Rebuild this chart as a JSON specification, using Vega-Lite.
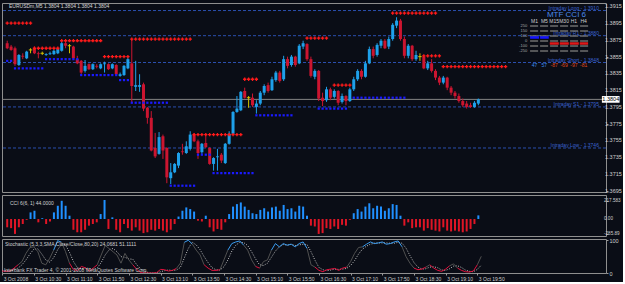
{
"$schema":"https://vega.github.io/schema/vega-lite/v6.json",
"background":"#0a0d16",
"padding":{"left":1,"top":2,"right":0,"bottom":0},
"spacing":3,
"bounds":"flush",
"config":{"view":{"stroke":"#8f8f8f","strokeWidth":1},"font":"Liberation Sans","axis":{"labelFont":"Liberation Sans","labelFontSize":5.5,"labelColor":"#cfcfcf","tickColor":"#9a9a9a","tickSize":2,"domain":false,"grid":false,"labelPadding":1,"labelOverlap":false}},
"datasets":{
"pticks":[{"v":1.3915},{"v":1.3895},{"v":1.3875},{"v":1.3855},{"v":1.3835},{"v":1.3815},{"v":1.3795},{"v":1.3775},{"v":1.3755},{"v":1.3735},{"v":1.3715},{"v":1.3695}],
"cticks":[{"v":217.583,"lab":"217.583"},{"v":0,"lab":"0.00"},{"v":-181,"lab":"-285.89"}],
"levels":[{"p":1.3910,"lab":"Intraday Long - 1.3910"},{"p":1.3880,"lab":"Intraday R1 - 1.3880"},{"p":1.3848,"lab":"Intraday Short - 1.3848"},{"p":1.3795,"lab":"Intraday S1 - 1.3795"},{"p":1.3746,"lab":"Intraday Low - 1.3746"}],
"bars":[
{"t":"2008-10-03T09:50","o":1.3871,"h":1.3874,"l":1.3864,"c":1.3865,"cci":-100,"k":6,"d":8,"r":1.3895,"s":1.3850},
{"t":"2008-10-03T09:55","o":1.3867,"h":1.3869,"l":1.3862,"c":1.3863,"cci":-110,"k":5,"d":7,"r":1.3895,"s":1.3850},
{"t":"2008-10-03T10:00","o":1.3865,"h":1.3867,"l":1.3844,"c":1.3846,"cci":-180,"k":6,"d":6,"r":1.3895,"s":1.3841},
{"t":"2008-10-03T10:05","o":1.3845,"h":1.3858,"l":1.3844,"c":1.3857,"cci":-100,"k":15,"d":9,"r":1.3895,"s":1.3841},
{"t":"2008-10-03T10:10","o":1.3856,"h":1.3859,"l":1.3852,"c":1.3855,"cci":-60,"k":25,"d":15,"r":1.3895,"s":1.3841},
{"t":"2008-10-03T10:15","o":1.3853,"h":1.3862,"l":1.3852,"c":1.3861,"cci":-10,"k":35,"d":25,"r":1.3895,"s":1.3841},
{"t":"2008-10-03T10:20","o":1.3863,"h":1.3865,"l":1.3859,"c":1.3863,"cci":80,"k":60,"d":40,"r":1.3895,"s":1.3841},
{"t":"2008-10-03T10:25","o":1.3865,"h":1.3867,"l":1.3858,"c":1.3859,"cci":100,"k":78,"d":58,"r":1.3865,"s":1.3841},
{"t":"2008-10-03T10:30","o":1.3859,"h":1.3861,"l":1.3853,"c":1.3858,"cci":-40,"k":80,"d":73,"r":1.3865,"s":1.3841},
{"t":"2008-10-03T10:35","o":1.3859,"h":1.3861,"l":1.3857,"c":1.3859,"cci":10,"k":65,"d":74,"r":1.3865,"s":1.3841},
{"t":"2008-10-03T10:40","o":1.3857,"h":1.3859,"l":1.3856,"c":1.3858,"cci":-60,"k":30,"d":58,"r":1.3865,"s":1.3852},
{"t":"2008-10-03T10:45","o":1.3858,"h":1.3861,"l":1.3857,"c":1.3859,"cci":-30,"k":25,"d":40,"r":1.3865,"s":1.3852},
{"t":"2008-10-03T10:50","o":1.3858,"h":1.3863,"l":1.3857,"c":1.3862,"cci":80,"k":45,"d":33,"r":1.3865,"s":1.3852},
{"t":"2008-10-03T10:55","o":1.3859,"h":1.3865,"l":1.3858,"c":1.3864,"cci":160,"k":70,"d":47,"r":1.3865,"s":1.3852},
{"t":"2008-10-03T11:00","o":1.3862,"h":1.3873,"l":1.3861,"c":1.3871,"cci":220,"k":99,"d":71,"r":1.3874,"s":1.3852},
{"t":"2008-10-03T11:05","o":1.3871,"h":1.3873,"l":1.3865,"c":1.3868,"cci":160,"k":94,"d":88,"r":1.3874,"s":1.3852},
{"t":"2008-10-03T11:10","o":1.3868,"h":1.3870,"l":1.3859,"c":1.3868,"cci":40,"k":65,"d":86,"r":1.3874,"s":1.3852},
{"t":"2008-10-03T11:15","o":1.3867,"h":1.3868,"l":1.3852,"c":1.3853,"cci":-130,"k":30,"d":63,"r":1.3874,"s":1.3852},
{"t":"2008-10-03T11:20","o":1.3852,"h":1.3856,"l":1.3846,"c":1.3847,"cci":-160,"k":10,"d":35,"r":1.3874,"s":1.3852},
{"t":"2008-10-03T11:25","o":1.3850,"h":1.3851,"l":1.3834,"c":1.3836,"cci":-160,"k":8,"d":16,"r":1.3874,"s":1.3833},
{"t":"2008-10-03T11:30","o":1.3838,"h":1.3851,"l":1.3836,"c":1.3844,"cci":-130,"k":20,"d":13,"r":1.3874,"s":1.3833},
{"t":"2008-10-03T11:35","o":1.3846,"h":1.3847,"l":1.3839,"c":1.3840,"cci":-80,"k":16,"d":15,"r":1.3874,"s":1.3833},
{"t":"2008-10-03T11:40","o":1.3840,"h":1.3847,"l":1.3839,"c":1.3846,"cci":-60,"k":6,"d":14,"r":1.3874,"s":1.3833},
{"t":"2008-10-03T11:45","o":1.3844,"h":1.3846,"l":1.3841,"c":1.3843,"cci":-40,"k":15,"d":12,"r":1.3874,"s":1.3833},
{"t":"2008-10-03T11:50","o":1.3841,"h":1.3847,"l":1.3840,"c":1.3846,"cci":60,"k":25,"d":15,"r":1.3874,"s":1.3833},
{"t":"2008-10-03T11:55","o":1.3846,"h":1.3849,"l":1.3836,"c":1.3847,"cci":230,"k":55,"d":32,"r":1.3855,"s":1.3833},
{"t":"2008-10-03T12:00","o":1.3846,"h":1.3847,"l":1.3839,"c":1.3840,"cci":-120,"k":84,"d":55,"r":1.3855,"s":1.3833},
{"t":"2008-10-03T12:05","o":1.3841,"h":1.3847,"l":1.3840,"c":1.3846,"cci":20,"k":75,"d":71,"r":1.3855,"s":1.3833},
{"t":"2008-10-03T12:10","o":1.3845,"h":1.3846,"l":1.3833,"c":1.3834,"cci":-130,"k":65,"d":75,"r":1.3855,"s":1.3833},
{"t":"2008-10-03T12:15","o":1.3832,"h":1.3836,"l":1.3831,"c":1.3834,"cci":-160,"k":55,"d":65,"r":1.3855,"s":1.3827},
{"t":"2008-10-03T12:20","o":1.3833,"h":1.3845,"l":1.3832,"c":1.3844,"cci":-60,"k":30,"d":50,"r":1.3855,"s":1.3827},
{"t":"2008-10-03T12:25","o":1.3841,"h":1.3854,"l":1.3840,"c":1.3852,"cci":-110,"k":60,"d":48,"r":1.3855,"s":1.3827},
{"t":"2008-10-03T12:30","o":1.3847,"h":1.3876,"l":1.3800,"c":1.3820,"cci":-140,"k":40,"d":43,"r":1.3876,"s":1.3800},
{"t":"2008-10-03T12:35","o":1.3819,"h":1.3850,"l":1.3814,"c":1.3821,"cci":-100,"k":25,"d":42,"r":1.3876,"s":1.3800},
{"t":"2008-10-03T12:40","o":1.3819,"h":1.3834,"l":1.3813,"c":1.3821,"cci":-140,"k":11,"d":25,"r":1.3876,"s":1.3800},
{"t":"2008-10-03T12:45","o":1.3822,"h":1.3824,"l":1.3790,"c":1.3793,"cci":-170,"k":1,"d":12,"r":1.3876,"s":1.3800},
{"t":"2008-10-03T12:50","o":1.3794,"h":1.3795,"l":1.3775,"c":1.3782,"cci":-160,"k":0,"d":4,"r":1.3876,"s":1.3800},
{"t":"2008-10-03T12:55","o":1.3782,"h":1.3790,"l":1.3742,"c":1.3743,"cci":-130,"k":0,"d":0,"r":1.3876,"s":1.3800},
{"t":"2008-10-03T13:00","o":1.3746,"h":1.3764,"l":1.3734,"c":1.3736,"cci":-140,"k":0,"d":0,"r":1.3876,"s":1.3800},
{"t":"2008-10-03T13:05","o":1.3739,"h":1.3765,"l":1.3738,"c":1.3759,"cci":-120,"k":1,"d":0,"r":1.3876,"s":1.3800},
{"t":"2008-10-03T13:10","o":1.3760,"h":1.3762,"l":1.3733,"c":1.3743,"cci":-140,"k":11,"d":4,"r":1.3876,"s":1.3800},
{"t":"2008-10-03T13:15","o":1.3746,"h":1.3747,"l":1.3704,"c":1.3711,"cci":-160,"k":10,"d":7,"r":1.3876,"s":1.3800},
{"t":"2008-10-03T13:20","o":1.3710,"h":1.3728,"l":1.3703,"c":1.3717,"cci":-130,"k":6,"d":9,"r":1.3876,"s":1.3701},
{"t":"2008-10-03T13:25","o":1.3717,"h":1.3728,"l":1.3716,"c":1.3727,"cci":-60,"k":8,"d":8,"r":1.3876,"s":1.3701},
{"t":"2008-10-03T13:30","o":1.3725,"h":1.3741,"l":1.3722,"c":1.3740,"cci":30,"k":14,"d":9,"r":1.3876,"s":1.3701},
{"t":"2008-10-03T13:35","o":1.3742,"h":1.3751,"l":1.3738,"c":1.3741,"cci":100,"k":30,"d":17,"r":1.3876,"s":1.3701},
{"t":"2008-10-03T13:40","o":1.3740,"h":1.3754,"l":1.3739,"c":1.3748,"cci":140,"k":94,"d":46,"r":1.3876,"s":1.3701},
{"t":"2008-10-03T13:45","o":1.3745,"h":1.3766,"l":1.3743,"c":1.3762,"cci":120,"k":100,"d":75,"r":1.3876,"s":1.3701},
{"t":"2008-10-03T13:50","o":1.3762,"h":1.3764,"l":1.3753,"c":1.3754,"cci":90,"k":89,"d":94,"r":1.3762,"s":1.3701},
{"t":"2008-10-03T13:55","o":1.3754,"h":1.3756,"l":1.3733,"c":1.3740,"cci":-20,"k":70,"d":86,"r":1.3762,"s":1.3738},
{"t":"2008-10-03T14:00","o":1.3741,"h":1.3752,"l":1.3739,"c":1.3751,"cci":-30,"k":55,"d":71,"r":1.3762,"s":1.3738},
{"t":"2008-10-03T14:05","o":1.3752,"h":1.3763,"l":1.3746,"c":1.3747,"cci":40,"k":25,"d":50,"r":1.3762,"s":1.3738},
{"t":"2008-10-03T14:10","o":1.3746,"h":1.3747,"l":1.3726,"c":1.3727,"cci":-100,"k":15,"d":32,"r":1.3762,"s":1.3738},
{"t":"2008-10-03T14:15","o":1.3727,"h":1.3735,"l":1.3719,"c":1.3734,"cci":-150,"k":8,"d":16,"r":1.3762,"s":1.3716},
{"t":"2008-10-03T14:20","o":1.3735,"h":1.3745,"l":1.3719,"c":1.3736,"cci":-120,"k":8,"d":10,"r":1.3762,"s":1.3716},
{"t":"2008-10-03T14:25","o":1.3738,"h":1.3740,"l":1.3728,"c":1.3731,"cci":-130,"k":10,"d":9,"r":1.3762,"s":1.3716},
{"t":"2008-10-03T14:30","o":1.3728,"h":1.3752,"l":1.3727,"c":1.3751,"cci":-40,"k":40,"d":19,"r":1.3762,"s":1.3716},
{"t":"2008-10-03T14:35","o":1.3751,"h":1.3766,"l":1.3750,"c":1.3763,"cci":60,"k":70,"d":40,"r":1.3762,"s":1.3716},
{"t":"2008-10-03T14:40","o":1.3763,"h":1.3790,"l":1.3762,"c":1.3789,"cci":150,"k":90,"d":67,"r":1.3762,"s":1.3716},
{"t":"2008-10-03T14:45","o":1.3789,"h":1.3808,"l":1.3788,"c":1.3793,"cci":180,"k":95,"d":85,"r":1.3762,"s":1.3716},
{"t":"2008-10-03T14:50","o":1.3791,"h":1.3814,"l":1.3790,"c":1.3813,"cci":200,"k":98,"d":94,"r":1.3762,"s":1.3716},
{"t":"2008-10-03T14:55","o":1.3814,"h":1.3818,"l":1.3805,"c":1.3806,"cci":150,"k":85,"d":93,"r":1.3828,"s":1.3716},
{"t":"2008-10-03T15:00","o":1.3806,"h":1.3808,"l":1.3794,"c":1.3806,"cci":110,"k":70,"d":84,"r":1.3828,"s":1.3716},
{"t":"2008-10-03T15:05","o":1.3806,"h":1.3811,"l":1.3795,"c":1.3797,"cci":70,"k":40,"d":65,"r":1.3828,"s":1.3716},
{"t":"2008-10-03T15:10","o":1.3795,"h":1.3803,"l":1.3787,"c":1.3799,"cci":60,"k":20,"d":43,"r":1.3828,"s":1.3785},
{"t":"2008-10-03T15:15","o":1.3799,"h":1.3814,"l":1.3797,"c":1.3812,"cci":110,"k":15,"d":25,"s":1.3785},
{"t":"2008-10-03T15:20","o":1.3812,"h":1.3822,"l":1.3809,"c":1.3820,"cci":130,"k":35,"d":23,"s":1.3785},
{"t":"2008-10-03T15:25","o":1.3821,"h":1.3824,"l":1.3812,"c":1.3814,"cci":90,"k":40,"d":30,"s":1.3785},
{"t":"2008-10-03T15:30","o":1.3815,"h":1.3831,"l":1.3814,"c":1.3828,"cci":140,"k":70,"d":48,"s":1.3785},
{"t":"2008-10-03T15:35","o":1.3827,"h":1.3838,"l":1.3825,"c":1.3836,"cci":150,"k":90,"d":67,"s":1.3785},
{"t":"2008-10-03T15:40","o":1.3836,"h":1.3838,"l":1.3824,"c":1.3826,"cci":100,"k":80,"d":80,"s":1.3785},
{"t":"2008-10-03T15:45","o":1.3828,"h":1.3856,"l":1.3826,"c":1.3852,"cci":170,"k":90,"d":87,"s":1.3785},
{"t":"2008-10-03T15:50","o":1.3852,"h":1.3855,"l":1.3841,"c":1.3844,"cci":120,"k":85,"d":85,"s":1.3785},
{"t":"2008-10-03T15:55","o":1.3845,"h":1.3857,"l":1.3843,"c":1.3855,"cci":130,"k":88,"d":88,"s":1.3785},
{"t":"2008-10-03T16:00","o":1.3855,"h":1.3856,"l":1.3843,"c":1.3845,"cci":90,"k":80,"d":84},
{"t":"2008-10-03T16:05","o":1.3847,"h":1.3870,"l":1.3846,"c":1.3868,"cci":160,"k":90,"d":86},
{"t":"2008-10-03T16:10","o":1.3867,"h":1.3874,"l":1.3864,"c":1.3871,"cci":150,"k":95,"d":88},
{"t":"2008-10-03T16:15","o":1.3870,"h":1.3871,"l":1.3850,"c":1.3852,"cci":40,"k":75,"d":87,"r":1.3877},
{"t":"2008-10-03T16:20","o":1.3852,"h":1.3855,"l":1.3830,"c":1.3832,"cci":-80,"k":25,"d":65,"r":1.3877},
{"t":"2008-10-03T16:25","o":1.3831,"h":1.3840,"l":1.3828,"c":1.3838,"cci":-90,"k":18,"d":39,"r":1.3877},
{"t":"2008-10-03T16:30","o":1.3838,"h":1.3839,"l":1.3802,"c":1.3805,"cci":-180,"k":8,"d":17,"r":1.3877,"s":1.3793},
{"t":"2008-10-03T16:35","o":1.3806,"h":1.3812,"l":1.3796,"c":1.3802,"cci":-170,"k":4,"d":10,"r":1.3877,"s":1.3793},
{"t":"2008-10-03T16:40","o":1.3803,"h":1.3819,"l":1.3801,"c":1.3816,"cci":-110,"k":10,"d":7,"r":1.3877,"s":1.3793},
{"t":"2008-10-03T16:45","o":1.3816,"h":1.3818,"l":1.3803,"c":1.3806,"cci":-120,"k":12,"d":9,"s":1.3793},
{"t":"2008-10-03T16:50","o":1.3807,"h":1.3816,"l":1.3805,"c":1.3814,"cci":-90,"k":14,"d":12,"r":1.3821,"s":1.3793},
{"t":"2008-10-03T16:55","o":1.3814,"h":1.3815,"l":1.3797,"c":1.3800,"cci":-120,"k":8,"d":11,"r":1.3821,"s":1.3793},
{"t":"2008-10-03T17:00","o":1.3801,"h":1.3811,"l":1.3799,"c":1.3808,"cci":-70,"k":15,"d":12,"r":1.3821,"s":1.3793},
{"t":"2008-10-03T17:05","o":1.3808,"h":1.3809,"l":1.3797,"c":1.3802,"cci":-80,"k":18,"d":14,"r":1.3821,"s":1.3793},
{"t":"2008-10-03T17:10","o":1.3802,"h":1.3818,"l":1.3801,"c":1.3816,"cci":-10,"k":35,"d":23,"r":1.3821},
{"t":"2008-10-03T17:15","o":1.3816,"h":1.3831,"l":1.3814,"c":1.3828,"cci":70,"k":60,"d":38,"s":1.3806},
{"t":"2008-10-03T17:20","o":1.3828,"h":1.3840,"l":1.3826,"c":1.3838,"cci":120,"k":78,"d":58,"s":1.3806},
{"t":"2008-10-03T17:25","o":1.3838,"h":1.3840,"l":1.3828,"c":1.3831,"cci":90,"k":80,"d":73,"s":1.3806},
{"t":"2008-10-03T17:30","o":1.3831,"h":1.3850,"l":1.3830,"c":1.3847,"cci":150,"k":88,"d":82,"s":1.3806},
{"t":"2008-10-03T17:35","o":1.3847,"h":1.3867,"l":1.3846,"c":1.3864,"cci":190,"k":95,"d":88,"s":1.3806},
{"t":"2008-10-03T17:40","o":1.3864,"h":1.3867,"l":1.3853,"c":1.3856,"cci":130,"k":90,"d":91,"s":1.3806},
{"t":"2008-10-03T17:45","o":1.3857,"h":1.3871,"l":1.3855,"c":1.3869,"cci":160,"k":92,"d":92,"s":1.3806},
{"t":"2008-10-03T17:50","o":1.3868,"h":1.3876,"l":1.3865,"c":1.3874,"cci":150,"k":95,"d":92,"s":1.3806},
{"t":"2008-10-03T17:55","o":1.3874,"h":1.3876,"l":1.3864,"c":1.3865,"cci":100,"k":88,"d":92,"s":1.3806},
{"t":"2008-10-03T18:00","o":1.3867,"h":1.3879,"l":1.3864,"c":1.3876,"cci":130,"k":90,"d":91,"s":1.3806},
{"t":"2008-10-03T18:05","o":1.3876,"h":1.3895,"l":1.3874,"c":1.3893,"cci":180,"k":95,"d":91,"r":1.3907,"s":1.3806},
{"t":"2008-10-03T18:10","o":1.3892,"h":1.3902,"l":1.3889,"c":1.3898,"cci":170,"k":98,"d":94,"r":1.3907,"s":1.3806},
{"t":"2008-10-03T18:15","o":1.3898,"h":1.3900,"l":1.3874,"c":1.3876,"cci":40,"k":80,"d":91,"r":1.3907,"s":1.3806},
{"t":"2008-10-03T18:20","o":1.3876,"h":1.3879,"l":1.3853,"c":1.3856,"cci":-80,"k":50,"d":76,"r":1.3907,"s":1.3806},
{"t":"2008-10-03T18:25","o":1.3856,"h":1.3870,"l":1.3853,"c":1.3868,"cci":-40,"k":30,"d":53,"r":1.3907},
{"t":"2008-10-03T18:30","o":1.3868,"h":1.3869,"l":1.3850,"c":1.3852,"cci":-110,"k":15,"d":32,"r":1.3907},
{"t":"2008-10-03T18:35","o":1.3852,"h":1.3862,"l":1.3850,"c":1.3857,"cci":-100,"k":10,"d":18,"r":1.3907},
{"t":"2008-10-03T18:40","o":1.3855,"h":1.3859,"l":1.3850,"c":1.3855,"cci":-100,"k":12,"d":12,"r":1.3907},
{"t":"2008-10-03T18:45","o":1.3855,"h":1.3856,"l":1.3840,"c":1.3841,"cci":-140,"k":18,"d":13,"r":1.3907,"r2":1.3856},
{"t":"2008-10-03T18:50","o":1.3841,"h":1.3850,"l":1.3839,"c":1.3847,"cci":-110,"k":25,"d":18,"r":1.3907,"r2":1.3856},
{"t":"2008-10-03T18:55","o":1.3847,"h":1.3852,"l":1.3836,"c":1.3838,"cci":-130,"k":15,"d":19,"r":1.3907,"r2":1.3856},
{"t":"2008-10-03T19:00","o":1.3838,"h":1.3840,"l":1.3827,"c":1.3830,"cci":-140,"k":8,"d":16,"r":1.3907,"r2":1.3856},
{"t":"2008-10-03T19:05","o":1.3830,"h":1.3832,"l":1.3821,"c":1.3824,"cci":-150,"k":5,"d":9,"r2":1.3856},
{"t":"2008-10-03T19:10","o":1.3824,"h":1.3832,"l":1.3822,"c":1.3830,"cci":-100,"k":12,"d":8,"r":1.3843},
{"t":"2008-10-03T19:15","o":1.3830,"h":1.3831,"l":1.3815,"c":1.3818,"cci":-140,"k":22,"d":13,"r":1.3843},
{"t":"2008-10-03T19:20","o":1.3818,"h":1.3820,"l":1.3809,"c":1.3812,"cci":-150,"k":28,"d":21,"r":1.3843},
{"t":"2008-10-03T19:25","o":1.3812,"h":1.3814,"l":1.3805,"c":1.3808,"cci":-140,"k":15,"d":22,"r":1.3843},
{"t":"2008-10-03T19:30","o":1.3808,"h":1.3811,"l":1.3800,"c":1.3802,"cci":-150,"k":8,"d":17,"r":1.3843},
{"t":"2008-10-03T19:35","o":1.3802,"h":1.3805,"l":1.3795,"c":1.3797,"cci":-160,"k":4,"d":9,"r":1.3843},
{"t":"2008-10-03T19:40","o":1.3799,"h":1.3802,"l":1.3793,"c":1.3795,"cci":-150,"k":3,"d":5,"r":1.3843},
{"t":"2008-10-03T19:45","o":1.3797,"h":1.3800,"l":1.3794,"c":1.3795,"cci":-120,"k":6,"d":4,"r":1.3843},
{"t":"2008-10-03T19:50","o":1.3795,"h":1.3802,"l":1.3794,"c":1.3800,"cci":-60,"k":25,"d":11,"r":1.3843},
{"t":"2008-10-03T19:55","o":1.3799,"h":1.3805,"l":1.3797,"c":1.3804,"cci":44,"k":51,"d":24,"r":1.3843},
{"t":"2008-10-03T20:00","r":1.3843},
{"t":"2008-10-03T20:05","r":1.3843},
{"t":"2008-10-03T20:10","r":1.3843},
{"t":"2008-10-03T20:15","r":1.3843},
{"t":"2008-10-03T20:20","r":1.3843},
{"t":"2008-10-03T20:25","r":1.3843},
{"t":"2008-10-03T20:30","r":1.3843}
]},
"vconcat":[
{"width":604,"height":189,
"data":{"name":"bars","format":{"parse":{"t":"date"}}},
"layer":[
{"data":{"name":"levels"},"mark":{"type":"rule","color":"#2b4fae","strokeDash":[3,2],"strokeWidth":1,"clip":true},
 "encoding":{"y":{"field":"p","type":"quantitative","scale":{"domain":[1.36935,1.3919],"nice":false,"zero":false},"title":null,
 "axis":{"orient":"right","values":[1.3915,1.3895,1.3875,1.3855,1.3835,1.3815,1.3795,1.3775,1.3755,1.3735,1.3715,1.3695],"labels":false,"title":null,"tickColor":"#9a9a9a","tickSize":2,"domain":false,"grid":false}}}},
{"data":{"name":"pticks"},"mark":{"type":"text","align":"left","baseline":"middle","dx":4,"fontSize":5.5,"color":"#cfcfcf","clip":false},
 "encoding":{"x":{"datum":{"year":2008,"month":10,"date":3,"hours":22,"minutes":32,"seconds":30},"type":"temporal","axis":null},"y":{"field":"v","type":"quantitative"},"text":{"field":"v","format":".4f"}}},
{"data":{"values":[{}]},"mark":{"type":"rule","color":"#858585","strokeWidth":1,"clip":true},"encoding":{"y":{"datum":1.3804}}},
{"mark":{"type":"rule","strokeWidth":1,"clip":true},
 "encoding":{"x":{"field":"t","type":"temporal","axis":null,"scale":{"nice":false,"domain":[{"year":2008,"month":10,"date":3,"hours":9,"minutes":49,"seconds":45},{"year":2008,"month":10,"date":3,"hours":22,"minutes":32,"seconds":30}]}},
 "y":{"field":"l","type":"quantitative"},"y2":{"field":"h"},
 "color":{"condition":[{"test":"datum.c > datum.o","value":"#1ea0ea"},{"test":"datum.c < datum.o","value":"#cc1530"}],"value":"#d2c000"}}},
{"mark":{"type":"bar","size":3,"clip":true},
 "encoding":{"x":{"field":"t","type":"temporal","axis":null},
 "y":{"field":"o","type":"quantitative"},"y2":{"field":"c"},
 "color":{"condition":[{"test":"datum.c > datum.o","value":"#1ea0ea"},{"test":"datum.c < datum.o","value":"#cc1530"}],"value":"#d2c000"}}},
{"transform":[{"filter":"isValid(datum.o) && datum.o == datum.c"}],"mark":{"type":"point","shape":"stroke","size":12,"filled":false,"stroke":"#d2c000","strokeWidth":1,"opacity":1,"clip":true},
 "encoding":{"x":{"field":"t","type":"temporal","axis":null},"y":{"field":"o","type":"quantitative"}}},
{"transform":[{"filter":"isValid(datum.r)"}],"mark":{"type":"point","shape":"cross","size":11,"filled":true,"color":"#ff1a1a","opacity":1,"clip":true},
 "encoding":{"x":{"field":"t","type":"temporal","axis":null},"y":{"field":"r","type":"quantitative"}}},
{"transform":[{"filter":"isValid(datum.r2)"}],"mark":{"type":"point","shape":"cross","size":11,"filled":true,"color":"#ff1a1a","opacity":1,"clip":true},
 "encoding":{"x":{"field":"t","type":"temporal","axis":null},"y":{"field":"r2","type":"quantitative"}}},
{"transform":[{"filter":"isValid(datum.s)"}],"mark":{"type":"point","shape":"square","size":5,"filled":true,"color":"#1a1aff","opacity":1,"clip":true},
 "encoding":{"x":{"field":"t","type":"temporal","axis":null},"y":{"field":"s","type":"quantitative"}}},
{"data":{"name":"levels"},"mark":{"type":"text","align":"right","baseline":"middle","dy":-3,"fontSize":5,"color":"#3a62d0"},
 "encoding":{"x":{"datum":{"year":2008,"month":10,"date":3,"hours":22,"minutes":29,"seconds":51},"type":"temporal","axis":null},"y":{"field":"p","type":"quantitative"},"text":{"field":"lab"}}},
{"data":{"values":[{}]},"mark":{"type":"text","text":"EURUSDm,M5  1.3804 1.3804 1.3804 1.3804","align":"left","baseline":"middle","fontSize":5,"color":"#d8d8d8"},
 "encoding":{"x":{"datum":{"year":2008,"month":10,"date":3,"hours":9,"minutes":52,"seconds":16},"type":"temporal","axis":null},"y":{"datum":1.3915}}},
{"data":{"values":[{}]},"mark":{"type":"text","text":"MTF CCI 6","align":"center","baseline":"middle","fontSize":8,"color":"#4a8ae8"},
 "encoding":{"x":{"datum":{"year":2008,"month":10,"date":3,"hours":21,"minutes":48,"seconds":9},"type":"temporal","axis":null},"y":{"datum":1.39048}}},
{"data":{"values":[{}]},"mark":{"type":"text","text":"M1","align":"center","baseline":"middle","fontSize":5,"color":"#d0d0d0"},"encoding":{"x":{"datum":{"year":2008,"month":10,"date":3,"hours":21,"minutes":7,"seconds":9},"type":"temporal","axis":null},"y":{"datum":1.38976}}},
{"data":{"values":[{}]},"mark":{"type":"text","text":"M5","align":"center","baseline":"middle","fontSize":5,"color":"#d0d0d0"},"encoding":{"x":{"datum":{"year":2008,"month":10,"date":3,"hours":21,"minutes":19,"seconds":45},"type":"temporal","axis":null},"y":{"datum":1.38976}}},
{"data":{"values":[{}]},"mark":{"type":"text","text":"M15","align":"center","baseline":"middle","fontSize":5,"color":"#d0d0d0"},"encoding":{"x":{"datum":{"year":2008,"month":10,"date":3,"hours":21,"minutes":32,"seconds":21},"type":"temporal","axis":null},"y":{"datum":1.38976}}},
{"data":{"values":[{}]},"mark":{"type":"text","text":"M30","align":"center","baseline":"middle","fontSize":5,"color":"#d0d0d0"},"encoding":{"x":{"datum":{"year":2008,"month":10,"date":3,"hours":21,"minutes":45,"seconds":3},"type":"temporal","axis":null},"y":{"datum":1.38976}}},
{"data":{"values":[{}]},"mark":{"type":"text","text":"H1","align":"center","baseline":"middle","fontSize":5,"color":"#d0d0d0"},"encoding":{"x":{"datum":{"year":2008,"month":10,"date":3,"hours":21,"minutes":57,"seconds":39},"type":"temporal","axis":null},"y":{"datum":1.38976}}},
{"data":{"values":[{}]},"mark":{"type":"text","text":"H4","align":"center","baseline":"middle","fontSize":5,"color":"#d0d0d0"},"encoding":{"x":{"datum":{"year":2008,"month":10,"date":3,"hours":22,"minutes":10,"seconds":15},"type":"temporal","axis":null},"y":{"datum":1.38976}}},
{"data":{"values":[{}]},"mark":{"type":"rule","color":"#6e6e6e","strokeWidth":1.5,"strokeDash":[8,2]},"encoding":{"x":{"datum":{"year":2008,"month":10,"date":3,"hours":21,"minutes":1,"seconds":27},"type":"temporal","axis":null},"x2":{"datum":{"year":2008,"month":10,"date":3,"hours":22,"minutes":15,"seconds":57}},"y":{"datum":1.38917}}},
{"data":{"values":[{}]},"mark":{"type":"rule","color":"#6e6e6e","strokeWidth":1.5,"strokeDash":[8,2]},"encoding":{"x":{"datum":{"year":2008,"month":10,"date":3,"hours":21,"minutes":1,"seconds":27},"type":"temporal","axis":null},"x2":{"datum":{"year":2008,"month":10,"date":3,"hours":22,"minutes":15,"seconds":57}},"y":{"datum":1.38857}}},
{"data":{"values":[{}]},"mark":{"type":"rule","color":"#6e6e6e","strokeWidth":1.5,"strokeDash":[8,2]},"encoding":{"x":{"datum":{"year":2008,"month":10,"date":3,"hours":21,"minutes":1,"seconds":27},"type":"temporal","axis":null},"x2":{"datum":{"year":2008,"month":10,"date":3,"hours":22,"minutes":15,"seconds":57}},"y":{"datum":1.38797}}},
{"data":{"values":[{}]},"mark":{"type":"rule","color":"#6e6e6e","strokeWidth":1.5,"strokeDash":[8,2]},"encoding":{"x":{"datum":{"year":2008,"month":10,"date":3,"hours":21,"minutes":1,"seconds":27},"type":"temporal","axis":null},"x2":{"datum":{"year":2008,"month":10,"date":3,"hours":22,"minutes":15,"seconds":57}},"y":{"datum":1.38737}}},
{"data":{"values":[{}]},"mark":{"type":"rule","color":"#6e6e6e","strokeWidth":1.5,"strokeDash":[8,2]},"encoding":{"x":{"datum":{"year":2008,"month":10,"date":3,"hours":21,"minutes":1,"seconds":27},"type":"temporal","axis":null},"x2":{"datum":{"year":2008,"month":10,"date":3,"hours":22,"minutes":15,"seconds":57}},"y":{"datum":1.38678}}},
{"data":{"values":[{}]},"mark":{"type":"rule","color":"#6e6e6e","strokeWidth":1.5,"strokeDash":[8,2]},"encoding":{"x":{"datum":{"year":2008,"month":10,"date":3,"hours":21,"minutes":1,"seconds":27},"type":"temporal","axis":null},"x2":{"datum":{"year":2008,"month":10,"date":3,"hours":22,"minutes":15,"seconds":57}},"y":{"datum":1.38618}}},
{"data":{"values":[{}]},"mark":{"type":"rule","color":"#1414ff","strokeWidth":2.5,"strokeDash":[9,1]},"encoding":{"x":{"datum":{"year":2008,"month":10,"date":3,"hours":21,"minutes":1,"seconds":27},"type":"temporal","axis":null},"x2":{"datum":{"year":2008,"month":10,"date":3,"hours":21,"minutes":25,"seconds":27}},"y":{"datum":1.38779}}},
{"data":{"values":[{}]},"mark":{"type":"rule","color":"#e01818","strokeWidth":2.5,"strokeDash":[9,1]},"encoding":{"x":{"datum":{"year":2008,"month":10,"date":3,"hours":21,"minutes":26,"seconds":45},"type":"temporal","axis":null},"x2":{"datum":{"year":2008,"month":10,"date":3,"hours":22,"minutes":15,"seconds":57}},"y":{"datum":1.38708}}},
{"data":{"values":[{}]},"mark":{"type":"text","text":"250","align":"right","baseline":"middle","fontSize":4,"color":"#a8a8a8"},"encoding":{"x":{"datum":{"year":2008,"month":10,"date":3,"hours":20,"minutes":57,"seconds":39},"type":"temporal","axis":null},"y":{"datum":1.38917}}},
{"data":{"values":[{}]},"mark":{"type":"text","text":"150","align":"right","baseline":"middle","fontSize":4,"color":"#a8a8a8"},"encoding":{"x":{"datum":{"year":2008,"month":10,"date":3,"hours":20,"minutes":57,"seconds":39},"type":"temporal","axis":null},"y":{"datum":1.38857}}},
{"data":{"values":[{}]},"mark":{"type":"text","text":"100","align":"right","baseline":"middle","fontSize":4,"color":"#a8a8a8"},"encoding":{"x":{"datum":{"year":2008,"month":10,"date":3,"hours":20,"minutes":57,"seconds":39},"type":"temporal","axis":null},"y":{"datum":1.38797}}},
{"data":{"values":[{}]},"mark":{"type":"text","text":"0","align":"right","baseline":"middle","fontSize":4,"color":"#a8a8a8"},"encoding":{"x":{"datum":{"year":2008,"month":10,"date":3,"hours":20,"minutes":57,"seconds":39},"type":"temporal","axis":null},"y":{"datum":1.38737}}},
{"data":{"values":[{}]},"mark":{"type":"text","text":"-100","align":"right","baseline":"middle","fontSize":4,"color":"#a8a8a8"},"encoding":{"x":{"datum":{"year":2008,"month":10,"date":3,"hours":20,"minutes":57,"seconds":39},"type":"temporal","axis":null},"y":{"datum":1.38678}}},
{"data":{"values":[{}]},"mark":{"type":"text","text":"-250","align":"right","baseline":"middle","fontSize":4,"color":"#a8a8a8"},"encoding":{"x":{"datum":{"year":2008,"month":10,"date":3,"hours":20,"minutes":57,"seconds":39},"type":"temporal","axis":null},"y":{"datum":1.38618}}},
{"data":{"values":[{}]},"mark":{"type":"text","text":"47","align":"center","baseline":"middle","fontSize":5,"color":"#3d8ef0"},"encoding":{"x":{"datum":{"year":2008,"month":10,"date":3,"hours":21,"minutes":7,"seconds":9},"type":"temporal","axis":null},"y":{"datum":1.38451}}},
{"data":{"values":[{}]},"mark":{"type":"text","text":"57","align":"center","baseline":"middle","fontSize":5,"color":"#3d8ef0"},"encoding":{"x":{"datum":{"year":2008,"month":10,"date":3,"hours":21,"minutes":19,"seconds":45},"type":"temporal","axis":null},"y":{"datum":1.38451}}},
{"data":{"values":[{}]},"mark":{"type":"text","text":"-87","align":"center","baseline":"middle","fontSize":5,"color":"#e04a1a"},"encoding":{"x":{"datum":{"year":2008,"month":10,"date":3,"hours":21,"minutes":32,"seconds":21},"type":"temporal","axis":null},"y":{"datum":1.38451}}},
{"data":{"values":[{}]},"mark":{"type":"text","text":"-69","align":"center","baseline":"middle","fontSize":5,"color":"#e04a1a"},"encoding":{"x":{"datum":{"year":2008,"month":10,"date":3,"hours":21,"minutes":45,"seconds":3},"type":"temporal","axis":null},"y":{"datum":1.38451}}},
{"data":{"values":[{}]},"mark":{"type":"text","text":"-97","align":"center","baseline":"middle","fontSize":5,"color":"#e04a1a"},"encoding":{"x":{"datum":{"year":2008,"month":10,"date":3,"hours":21,"minutes":57,"seconds":39},"type":"temporal","axis":null},"y":{"datum":1.38451}}},
{"data":{"values":[{}]},"mark":{"type":"text","text":"-81","align":"center","baseline":"middle","fontSize":5,"color":"#e04a1a"},"encoding":{"x":{"datum":{"year":2008,"month":10,"date":3,"hours":22,"minutes":10,"seconds":15},"type":"temporal","axis":null},"y":{"datum":1.38451}}},
{"data":{"values":[{}]},"mark":{"type":"rect","fill":"#ffffff","clip":false},"encoding":{"x":{"datum":{"year":2008,"month":10,"date":3,"hours":22,"minutes":33,"seconds":39},"type":"temporal","axis":null},"x2":{"datum":{"year":2008,"month":10,"date":3,"hours":22,"minutes":56,"seconds":21}},"y":{"datum":1.3808},"y2":{"datum":1.3800}}},
{"data":{"values":[{}]},"mark":{"type":"text","text":"1.3804","align":"center","baseline":"middle","fontSize":5.5,"color":"#000000","clip":false},"encoding":{"x":{"datum":{"year":2008,"month":10,"date":3,"hours":22,"minutes":45,"seconds":3},"type":"temporal","axis":null},"y":{"datum":1.3804}}}
]},
{"width":604,"height":41,
"data":{"name":"bars","format":{"parse":{"t":"date"}}},
"layer":[
{"transform":[{"filter":"isValid(datum.cci)"}],"mark":{"type":"bar","size":2,"clip":true},
 "encoding":{"x":{"field":"t","type":"temporal","axis":null,"scale":{"nice":false,"domain":[{"year":2008,"month":10,"date":3,"hours":9,"minutes":49,"seconds":45},{"year":2008,"month":10,"date":3,"hours":22,"minutes":32,"seconds":30}]}},
 "y":{"field":"cci","type":"quantitative","scale":{"domain":[-205,290],"nice":false},"title":null,
 "axis":{"orient":"right","values":[217.583,0,-181],"labels":false,"title":null,"tickColor":"#9a9a9a","tickSize":2,"domain":false,"grid":false}},
 "color":{"condition":{"test":"datum.cci >= 0","value":"#2090ff"},"value":"#e01525"}}},
{"data":{"name":"cticks"},"mark":{"type":"text","align":"left","baseline":"middle","dx":3,"fontSize":4.6,"color":"#cfcfcf","clip":false},
 "encoding":{"x":{"datum":{"year":2008,"month":10,"date":3,"hours":22,"minutes":32,"seconds":30},"type":"temporal","axis":null},"y":{"field":"v","type":"quantitative"},"text":{"field":"lab"}}},
{"data":{"values":[{}]},"mark":{"type":"text","text":"CCI 6(6, 1) 44.0000","align":"left","baseline":"middle","fontSize":5,"color":"#d0d0d0"},
 "encoding":{"x":{"datum":{"year":2008,"month":10,"date":3,"hours":9,"minutes":53,"seconds":33},"type":"temporal","axis":null},"y":{"datum":193}}}
]},
{"width":604,"height":34,
"data":{"name":"bars","format":{"parse":{"t":"date"}}},
"layer":[
{"transform":[{"filter":"isValid(datum.d)"}],"mark":{"type":"line","strokeDash":[1,1.5],"color":"#c4c4c4","strokeWidth":1,"clip":true},
 "encoding":{"x":{"field":"t","type":"temporal","title":null,"scale":{"nice":false,"domain":[{"year":2008,"month":10,"date":3,"hours":9,"minutes":49,"seconds":45},{"year":2008,"month":10,"date":3,"hours":22,"minutes":32,"seconds":30}]},
 "axis":{"values":[{"year":2008,"month":10,"date":3,"hours":9,"minutes":50},{"year":2008,"month":10,"date":3,"hours":10,"minutes":30},{"year":2008,"month":10,"date":3,"hours":11,"minutes":10},{"year":2008,"month":10,"date":3,"hours":11,"minutes":50},{"year":2008,"month":10,"date":3,"hours":12,"minutes":30},{"year":2008,"month":10,"date":3,"hours":13,"minutes":10},{"year":2008,"month":10,"date":3,"hours":13,"minutes":50},{"year":2008,"month":10,"date":3,"hours":14,"minutes":30},{"year":2008,"month":10,"date":3,"hours":15,"minutes":10},{"year":2008,"month":10,"date":3,"hours":15,"minutes":50},{"year":2008,"month":10,"date":3,"hours":16,"minutes":30},{"year":2008,"month":10,"date":3,"hours":17,"minutes":10},{"year":2008,"month":10,"date":3,"hours":17,"minutes":50},{"year":2008,"month":10,"date":3,"hours":18,"minutes":30},{"year":2008,"month":10,"date":3,"hours":19,"minutes":10},{"year":2008,"month":10,"date":3,"hours":19,"minutes":50}],
 "labelExpr":"hours(datum.value) == 9 ? '3 Oct 2008' : timeFormat(datum.value, '%-d %b %H:%M')","labelAlign":"left","labelOffset":1,"labelFlush":false,"labelOverlap":false,"title":null,"labelColor":"#cfcfcf","labelFont":"Liberation Sans","labelFontSize":5,"tickColor":"#9a9a9a","tickSize":2,"domain":false,"grid":false,"labelPadding":1}},
 "y":{"field":"d","type":"quantitative","scale":{"domain":[0,104],"nice":false},"title":null,"axis":{"orient":"right","values":[100,0],"labelOverlap":false,"title":null,"labelColor":"#cfcfcf","labelFont":"Liberation Sans","labelFontSize":5.5,"tickColor":"#9a9a9a","tickSize":2,"domain":false,"grid":false,"labelPadding":1}}}},
{"transform":[{"filter":"isValid(datum.k)"},{"window":[{"op":"lead","field":"k","as":"k2"},{"op":"lead","field":"t","as":"t2"}],"sort":[{"field":"t","order":"ascending"}]},{"filter":"isValid(datum.k2)"}],
 "mark":{"type":"rule","strokeWidth":1,"clip":true},
 "encoding":{"x":{"field":"t","type":"temporal"},"x2":{"field":"t2"},"y":{"field":"k","type":"quantitative"},"y2":{"field":"k2"},
 "color":{"condition":[{"test":"(datum.k + datum.k2) / 2 >= 80","value":"#3a9cf0"},{"test":"(datum.k + datum.k2) / 2 <= 20","value":"#e0103c"}],"value":"#505050"}}},
{"data":{"values":[{}]},"mark":{"type":"text","text":"Stochastic (5,3,3,SMA,Close/Close,80,20) 24.0681 51.1111","align":"left","baseline":"middle","fontSize":5,"color":"#d0d0d0"},
 "encoding":{"x":{"datum":{"year":2008,"month":10,"date":3,"hours":9,"minutes":53,"seconds":33},"type":"temporal"},"y":{"datum":89}}},
{"data":{"values":[{}]},"mark":{"type":"text","text":"Interbank FX Trader 4, © 2001-2008 MetaQuotes Software Corp.","align":"left","baseline":"middle","fontSize":5,"color":"#d0d0d0"},
 "encoding":{"x":{"datum":{"year":2008,"month":10,"date":3,"hours":9,"minutes":52,"seconds":16},"type":"temporal"},"y":{"datum":9}}}
]}
]}
